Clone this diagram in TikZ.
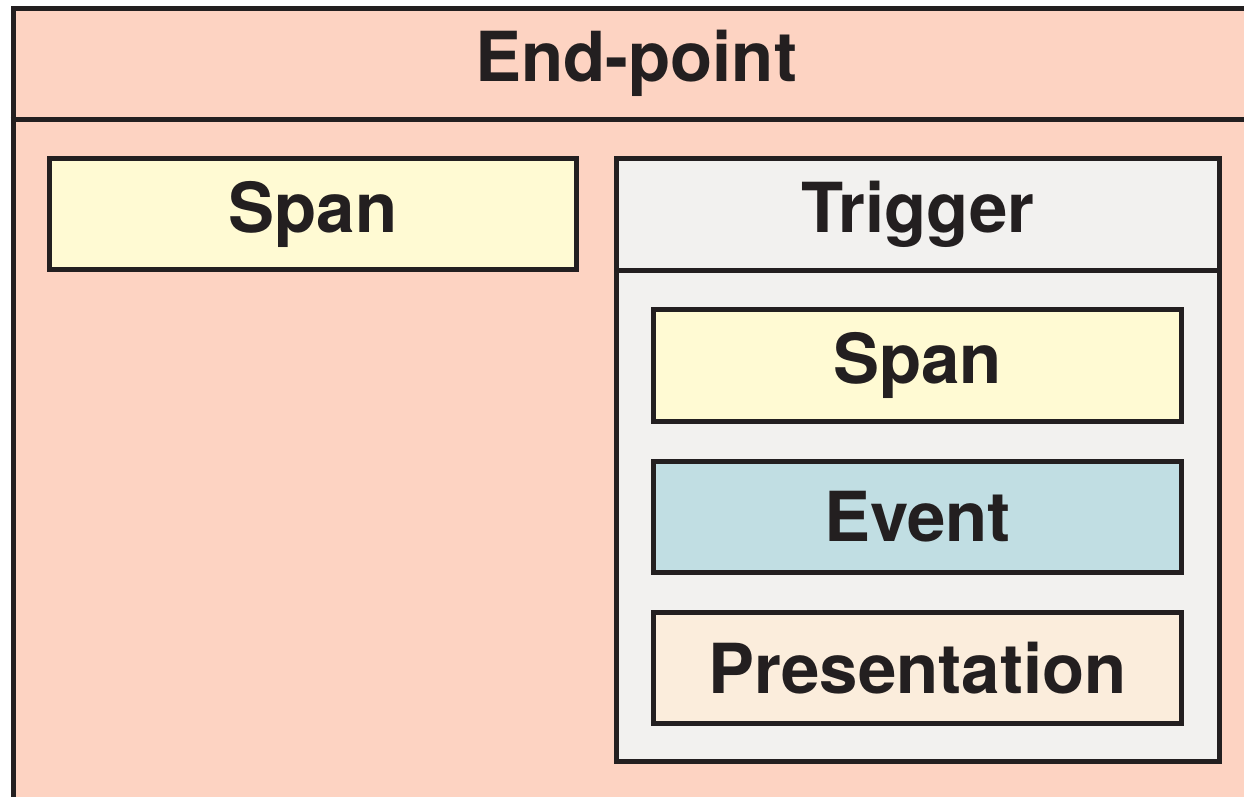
\documentclass[tikz,border=0pt]{standalone}
\usepackage{fontspec}
\setmainfont{TeX Gyre Heros}
\definecolor{inkline}{HTML}{231F20}
\definecolor{endfill}{HTML}{FDD3C2}
\definecolor{spanfill}{HTML}{FFFAD3}
\definecolor{trigfill}{HTML}{F2F1EF}
\definecolor{eventfill}{HTML}{C1DEE3}
\definecolor{presfill}{HTML}{FBEDDC}
\begin{document}
\begin{tikzpicture}[x=1pt, y=-1pt,
  frame/.style={draw=inkline, line width=5pt, inner sep=0pt},
  label/.style={text=inkline, font=\fontsize{69}{80}\selectfont\bfseries, inner sep=0pt},
  leaf/.style={frame, label, minimum width=528pt, minimum height=112pt}]
\clip (0,0) rectangle (1244,797);
% outer end-point frame, runs off the right and bottom edges
\node[frame, fill=endfill, anchor=north west, minimum width=1300pt, minimum height=850pt] (endpoint) at (10.5,6.5){};
\coordinate (headrule) at (10.5,119.5);
\draw[frame] (headrule) -- (headrule -| endpoint.east);
\node[label] (endtitle) at (636,63){End-point};
\node[leaf, fill=spanfill, minimum width=527pt, minimum height=111pt] (span0) at (313,214){Span};
% trigger with its three parts
\node[frame, fill=trigfill, minimum width=603pt, minimum height=603pt] (trigger) at (918,460){};
\coordinate (trigrule) at (616.5,270.5);
\draw[frame] (trigrule) -- (trigrule -| trigger.east);
\node[label] (trigtitle) at (918,214.5){Trigger};
\node[leaf, fill=spanfill] (span1) at (917.5,365.5){Span};
\node[leaf, fill=eventfill, minimum height=111pt] (event1) at (917.5,517){Event};
\node[leaf, fill=presfill, minimum height=111pt] (pres1) at (917.5,668){Presentation};
\end{tikzpicture}
\end{document}
